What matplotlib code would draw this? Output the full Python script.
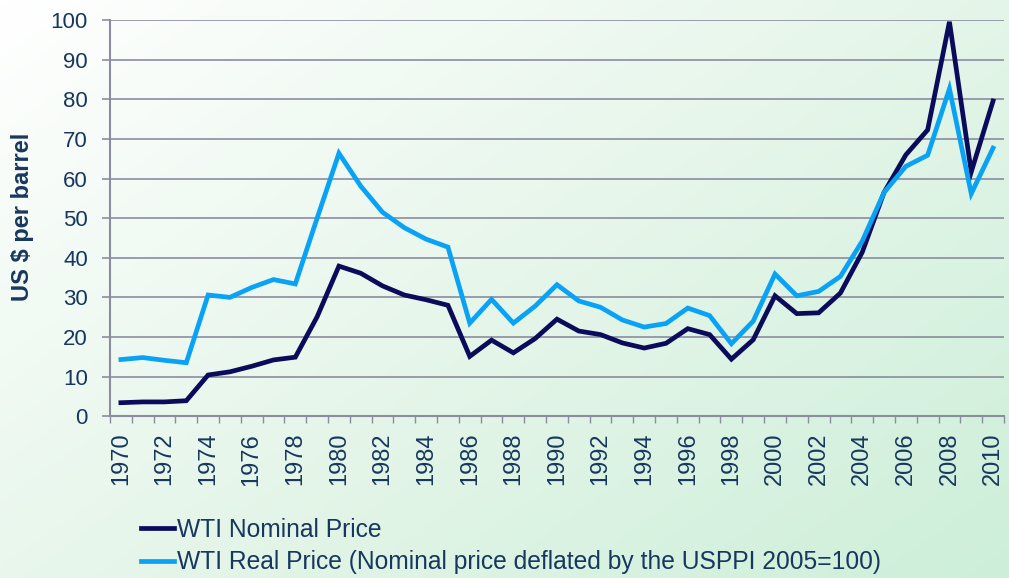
import numpy as np
import matplotlib
matplotlib.use('Agg')
import matplotlib.pyplot as plt
from matplotlib.colors import LinearSegmentedColormap

years = list(range(1970, 2011))
nominal = [3.4, 3.6, 3.6, 3.9, 10.4, 11.2, 12.6, 14.2, 14.9, 25.1,
           37.9, 36.1, 32.9, 30.6, 29.4, 28.0, 15.1, 19.2, 16.0, 19.6,
           24.5, 21.5, 20.6, 18.5, 17.2, 18.4, 22.1, 20.6, 14.4, 19.3,
           30.4, 25.9, 26.1, 31.1, 41.4, 56.5, 66.0, 72.3, 99.6, 61.7, 79.6]
real = [14.3, 14.8, 14.1, 13.5, 30.6, 30.0, 32.5, 34.5, 33.4, 50.0,
        66.4, 58.1, 51.5, 47.6, 44.7, 42.7, 23.5, 29.5, 23.5, 27.8,
        33.2, 29.1, 27.5, 24.3, 22.5, 23.4, 27.3, 25.4, 18.3, 24.0,
        35.9, 30.4, 31.5, 35.3, 44.2, 56.5, 63.1, 65.9, 82.7, 56.2, 67.7]

text_col = '#17375E'
grid_col = '#8C8CA0'
plt.rcParams['font.family'] = ['Liberation Sans', 'DejaVu Sans']

fig = plt.figure(figsize=(10.09, 5.78), dpi=100)

# gradient background: white top-left -> light green bottom-right
bg = fig.add_axes([0, 0, 1, 1], zorder=-10)
gx, gy = np.meshgrid(np.linspace(0, 1, 200), np.linspace(0, 1, 200))
grad = (gx * 0.55 + gy * 0.45)
cmap = LinearSegmentedColormap.from_list('bg', ['#FFFFFF', '#E6F6EA', '#CDEFD9'])
bg.imshow(grad, cmap=cmap, aspect='auto', extent=[0, 1, 0, 1], origin='upper')
bg.axis('off')

ax = fig.add_axes([0.109, 0.280, 0.886, 0.685])
ax.patch.set_alpha(0)
x = np.arange(len(years))
ax.plot(x, nominal, color='#0B0B5C', lw=3.4, label='WTI Nominal Price', solid_joinstyle='miter')
ax.plot(x, real, color='#0AA2F5', lw=3.4,
        label='WTI Real Price (Nominal price deflated by the USPPI 2005=100)', solid_joinstyle='miter')

ax.set_xlim(-0.5, len(years) - 0.5)
ax.set_ylim(0, 100)
ax.set_yticks(range(0, 101, 10))
ax.yaxis.grid(True, color=grid_col, lw=1.2)
ax.set_axisbelow(True)
ax.tick_params(axis='y', labelsize=16, colors=grid_col, labelcolor=text_col, length=6, width=1.2, pad=10)

ax.set_xticks(x[::2])
ax.set_xticklabels([str(y) for y in years[::2]], rotation=90)
ax.set_xticks(np.arange(-0.5, len(years)), minor=True)
ax.tick_params(axis='x', which='major', length=0, labelsize=17, labelcolor=text_col, pad=12)
ax.tick_params(axis='x', which='minor', length=5, width=1, colors=grid_col)

for s in ['top', 'right']:
    ax.spines[s].set_visible(False)
for s in ['left', 'bottom']:
    ax.spines[s].set_color(grid_col)
    ax.spines[s].set_linewidth(1.5)

fig.text(0.022, 0.625, 'US $ per barrel', rotation=90, ha='center', va='center',
         fontsize=17, fontweight='bold', color=text_col)

leg = fig.legend(loc='upper left', bbox_to_anchor=(0.140, 0.104), frameon=False,
                 fontsize=17.7, handlelength=1.35, handletextpad=0.1, labelspacing=0.34,
                 borderaxespad=0, borderpad=0)
for t in leg.get_texts():
    t.set_color(text_col)

plt.savefig('out.png', dpi=100)
